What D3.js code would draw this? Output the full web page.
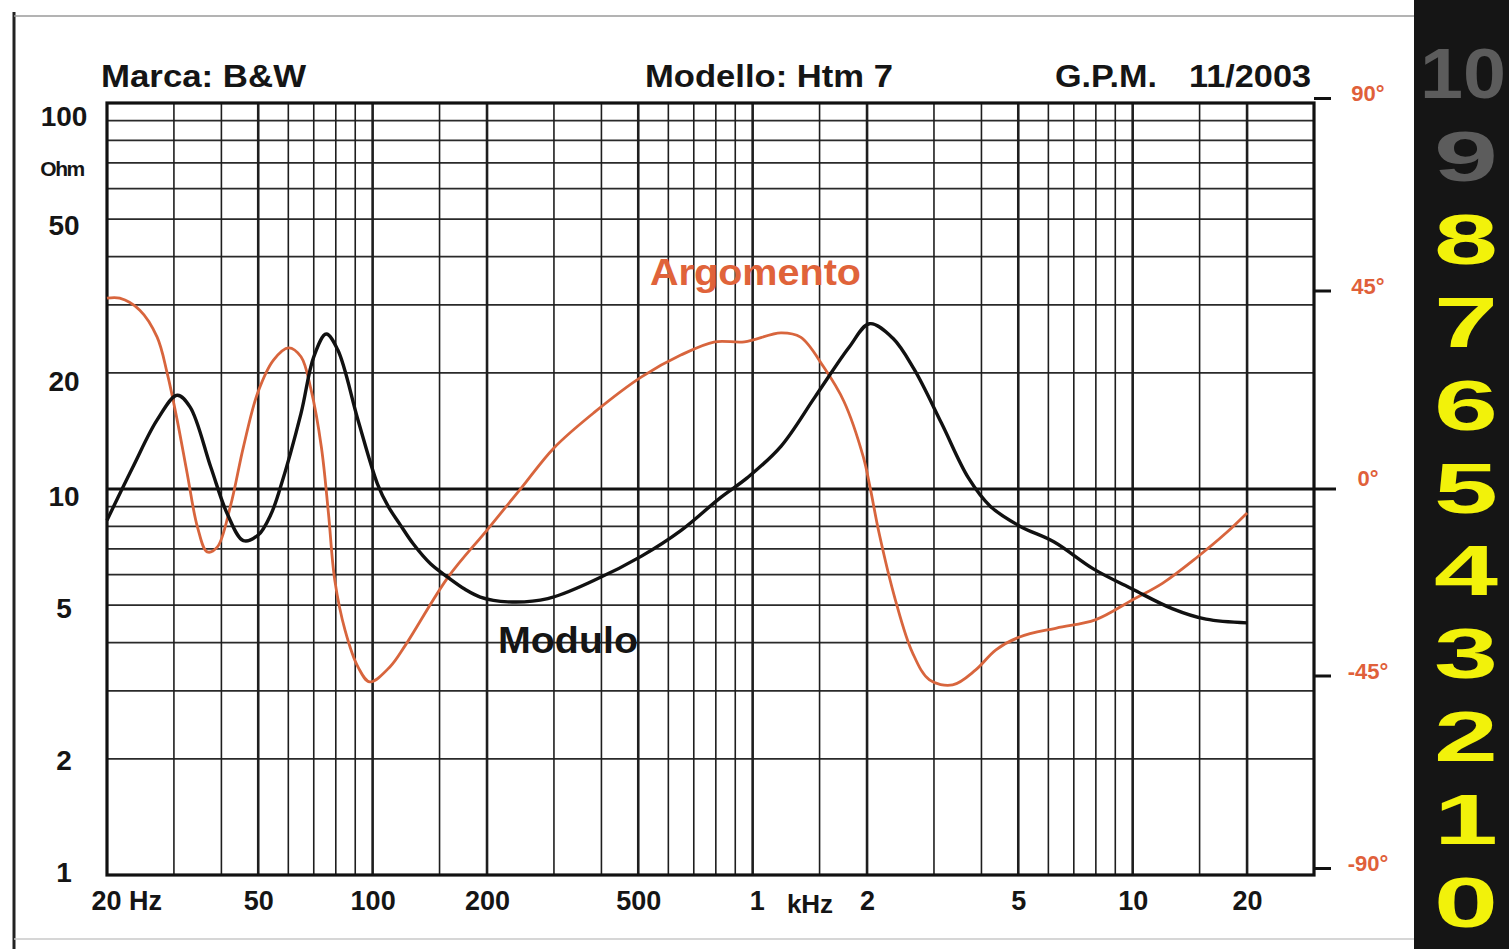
<!DOCTYPE html>
<html>
<head>
<meta charset="utf-8">
<script src="https://cdn.jsdelivr.net/npm/d3@7"></script>
<style>
  html, body { margin: 0; padding: 0; background: #ffffff; }
  svg { display: block; }
  text { font-family: "Liberation Sans", Arial, sans-serif; font-weight: bold; }
</style>
</head>
<body>
<svg id="chart" width="1509" height="949"></svg>
<script>
// ---------------- data ----------------
const moduloFreq = [20, 23.4, 27.1, 30.6, 33.1, 37.5, 41.5, 45.7, 50, 54, 57.2, 64.8, 70, 75.5, 81, 91.5, 103, 110, 118, 128, 142, 158, 175, 192, 227, 289, 383, 510, 647, 823, 969, 1187, 1458, 1794, 2030, 2336, 2662, 3141, 3693, 4231, 5061, 6200, 7900, 10000, 12700, 15600, 20000];
const moduloOhm  = [8.3, 11.4, 15.1, 17.5, 16.3, 11.4, 8.6, 7.35, 7.6, 8.6, 10.1, 15.7, 22.0, 25.2, 22.9, 15.1, 10.3, 9.0, 8.1, 7.2, 6.4, 5.9, 5.5, 5.25, 5.1, 5.2, 5.8, 6.7, 7.8, 9.5, 10.7, 12.9, 17.3, 23.3, 26.8, 24.6, 20.4, 14.8, 10.7, 9.0, 8.0, 7.3, 6.2, 5.5, 4.9, 4.6, 4.5];

const argFreq = [20, 21.6, 24.4, 27.1, 28.8, 30.6, 32.5, 34.6, 36.7, 39.0, 42.2, 45.7, 49.8, 54.9, 60.1, 64.8, 68.9, 73.3, 76.5, 79.5, 84.6, 91.5, 98.3, 111, 122, 158, 200, 246, 300, 383, 510, 647, 795, 951, 1187, 1337, 1538, 1740, 1955, 2036, 2151, 2374, 2635, 2919, 3359, 3863, 4367, 5040, 6300, 7970, 10000, 12000, 14800, 17600, 20000];
const argDeg  = [43.2, 43.2, 40.4, 34.1, 25.7, 14.7, 2.3, -10.3, -16.1, -15.0, -5.6, 8.4, 21.0, 28.8, 31.6, 29.5, 21.7, 8.4, -7.0, -22.7, -34.4, -43.0, -46.5, -43.0, -37.9, -22, -11, -1.2, 8.2, 16.5, 24.8, 29.9, 33.0, 33.0, 35.1, 34.1, 27.1, 19.0, 6.1, -0.9, -11.7, -27.3, -39.7, -46, -47.2, -43.7, -39.0, -36, -33.9, -32, -27.3, -23.4, -17.3, -11.7, -7.0];

const freqTicks = [20, 50, 100, 200, 500, 1000, 2000, 5000, 10000, 20000];
const freqTickLabels = ["20 Hz", "50", "100", "200", "500", "1", "2", "5", "10", "20"];
const ohmTicks = [1, 2, 5, 10, 20, 50, 100];
const ohmTickLabels = ["1", "2", "5", "10", "20", "50", "100"];
const phaseTicks = [-90, -45, 0, 45, 90];
const phaseTickLabels = ["-90°", "-45°", "0°", "45°", "90°"];

const gridFreqs = [30, 40, 50, 60, 70, 80, 90, 100, 150, 200, 300, 400, 500, 600, 700, 800, 900, 1000, 1500, 2000, 3000, 4000, 5000, 6000, 7000, 8000, 9000, 10000, 15000, 20000];
const heavyFreqs = [50, 100, 200, 500, 1000, 2000, 5000, 10000, 20000];
const gridOhms = [2, 3, 4, 5, 6, 7, 8, 9, 10, 20, 30, 40, 50, 60, 70, 80, 90];

const ratingDigits = ["10", "9", "8", "7", "6", "5", "4", "3", "2", "1", "0"];
const ratingActive = [false, false, true, true, true, true, true, true, true, true, true];

// ---------------- scales ----------------
const svg = d3.select("#chart");
const x = d3.scaleLog().domain([20, 30000]).range([107, 1314]);
const yOhm = d3.scaleLog().domain([1, 100]).range([875, 103]);
const yDeg = d3.scaleLinear().domain([-90, 90]).range([868, 98]);

const X0 = x.range()[0], X1 = x.range()[1];
const Y0 = yOhm.range()[1], Y1 = yOhm.range()[0];

// page frame
svg.append("line").attr("x1", 14).attr("x2", 14).attr("y1", 12).attr("y2", 949)
  .attr("stroke", "#222").attr("stroke-width", 3);
svg.append("line").attr("x1", 14).attr("x2", 1414).attr("y1", 16).attr("y2", 16)
  .attr("stroke", "#9a9a9a").attr("stroke-width", 1.5);
svg.append("line").attr("x1", 14).attr("x2", 1414).attr("y1", 939).attr("y2", 939)
  .attr("stroke", "#c8c8c8").attr("stroke-width", 1.5);

// ---------------- grid ----------------
const grid = svg.append("g");
grid.selectAll("line.h").data(gridOhms).join("line")
  .attr("x1", X0).attr("x2", X1)
  .attr("y1", d => yOhm(d)).attr("y2", d => yOhm(d))
  .attr("stroke", "#2a2a2a").attr("stroke-width", d => d === 10 ? 0 : 1.7);
grid.selectAll("line.v").data(gridFreqs).join("line")
  .attr("x1", d => x(d)).attr("x2", d => x(d))
  .attr("y1", Y0).attr("y2", Y1)
  .attr("stroke", "#1e1e1e").attr("stroke-width", d => heavyFreqs.includes(d) ? 2.6 : 1.6);

// 10 ohm / 0 deg heavy line
svg.append("line").attr("x1", X0).attr("x2", X1 + 22)
  .attr("y1", yOhm(10)).attr("y2", yOhm(10))
  .attr("stroke", "#111").attr("stroke-width", 3);

// frame
svg.append("rect").attr("x", X0).attr("y", Y0).attr("width", X1 - X0).attr("height", Y1 - Y0)
  .attr("fill", "none").attr("stroke", "#111").attr("stroke-width", 3.2);

// ---------------- axes ----------------
const xAxis = svg.append("g").attr("transform", `translate(0,${Y1})`)
  .call(d3.axisBottom(x).tickValues(freqTicks).tickSize(0).tickPadding(16)
    .tickFormat((d, i) => freqTickLabels[i]));
xAxis.select(".domain").remove();
xAxis.selectAll("text").attr("font-size", 27).attr("fill", "#151515")
  .attr("font-family", "Liberation Sans, Arial, sans-serif").attr("font-weight", "bold")
  .attr("dy", "0.71em");
xAxis.selectAll(".tick").filter(d => d === 20).select("text")
  .attr("text-anchor", "start").attr("x", -16);
xAxis.selectAll(".tick").filter(d => d === 1000).select("text").attr("x", 4);
svg.append("text").attr("x", 810).attr("y", 913).attr("text-anchor", "middle")
  .attr("font-size", 26).attr("fill", "#151515").text("kHz");

const ohmShift = {100: 12, 50: 5, 20: 8, 10: 6, 5: 2, 2: 1, 1: -4};
const yAxis = svg.append("g").attr("transform", `translate(${X0},0)`)
  .call(d3.axisLeft(yOhm).tickValues(ohmTicks).tickSize(0)
    .tickFormat((d, i) => ohmTickLabels[i]));
yAxis.select(".domain").remove();
yAxis.selectAll("text").attr("font-size", 28).attr("fill", "#151515")
  .attr("font-family", "Liberation Sans, Arial, sans-serif").attr("font-weight", "bold")
  .attr("text-anchor", "middle").attr("x", 64 - X0)
  .attr("y", d => ohmShift[d] || 0).attr("dy", "0.36em");
svg.append("text").attr("x", 62).attr("y", 176).attr("text-anchor", "middle")
  .attr("font-size", 21).attr("fill", "#151515").attr("letter-spacing", -1.5).text("Ohm");

const rAxis = svg.append("g").attr("transform", `translate(${X1},0)`)
  .call(d3.axisRight(yDeg).tickValues(phaseTicks).tickSize(17)
    .tickFormat((d, i) => phaseTickLabels[i]));
rAxis.select(".domain").remove();
rAxis.selectAll("line").attr("stroke", "#111").attr("stroke-width", 3);
rAxis.selectAll(".tick").filter(d => d === 0).select("line").attr("stroke-width", 0);
rAxis.selectAll("text").attr("font-size", 22).attr("fill", "#e0603a")
  .attr("font-family", "Liberation Sans, Arial, sans-serif").attr("font-weight", "normal")
  .attr("text-anchor", "middle").attr("x", 54).attr("dy", "0.12em");

// ---------------- curves ----------------
const modLine = d3.line().curve(d3.curveCatmullRom.alpha(0.5))
  .x((d, i) => x(moduloFreq[i])).y((d, i) => yOhm(moduloOhm[i]));
const argLine = d3.line().curve(d3.curveCatmullRom.alpha(0.5))
  .x((d, i) => x(argFreq[i])).y((d, i) => yDeg(argDeg[i]));

svg.append("path").datum(argFreq).attr("d", argLine)
  .attr("fill", "none").attr("stroke", "#d8653d").attr("stroke-width", 2.8)
  .attr("stroke-linejoin", "round");
svg.append("path").datum(moduloFreq).attr("d", modLine)
  .attr("fill", "none").attr("stroke", "#111").attr("stroke-width", 3.4)
  .attr("stroke-linejoin", "round");

// ---------------- titles / labels ----------------
function label(txt, xx, yy, size, len, color) {
  svg.append("text").attr("x", xx).attr("y", yy).attr("font-size", size)
    .attr("fill", color || "#151515")
    .attr("textLength", len).attr("lengthAdjust", "spacingAndGlyphs").text(txt);
}
label("Marca: B&W", 101, 87, 32, 205);
label("Modello: Htm 7", 645, 87, 32, 248);
label("G.P.M.", 1055, 87, 32, 102);
label("11/2003", 1189, 87, 32, 122);
label("Argomento", 650, 285, 36, 211, "#e0633a");
label("Modulo", 498, 653, 37, 140);

// ---------------- rating strip ----------------
svg.append("rect").attr("x", 1414).attr("y", 0).attr("width", 95).attr("height", 949).attr("fill", "#151515");
const ratingY = d3.scalePoint().domain(ratingDigits).range([72, 901]);
svg.selectAll("text.rate").data(ratingDigits).join("text")
  .attr("class", "rate")
  .attr("x", d => d === "10" ? 1420 : 1434)
  .attr("y", d => ratingY(d) + 26)
  .attr("font-family", "DejaVu Sans, sans-serif").attr("font-weight", "bold")
  .attr("font-size", 70)
  .attr("textLength", d => d === "10" ? 86 : 64)
  .attr("lengthAdjust", "spacingAndGlyphs")
  .attr("fill", (d, i) => ratingActive[i] ? "#f2f20a" : "#5c5c5c")
  .text(d => d);
</script>
</body>
</html>
